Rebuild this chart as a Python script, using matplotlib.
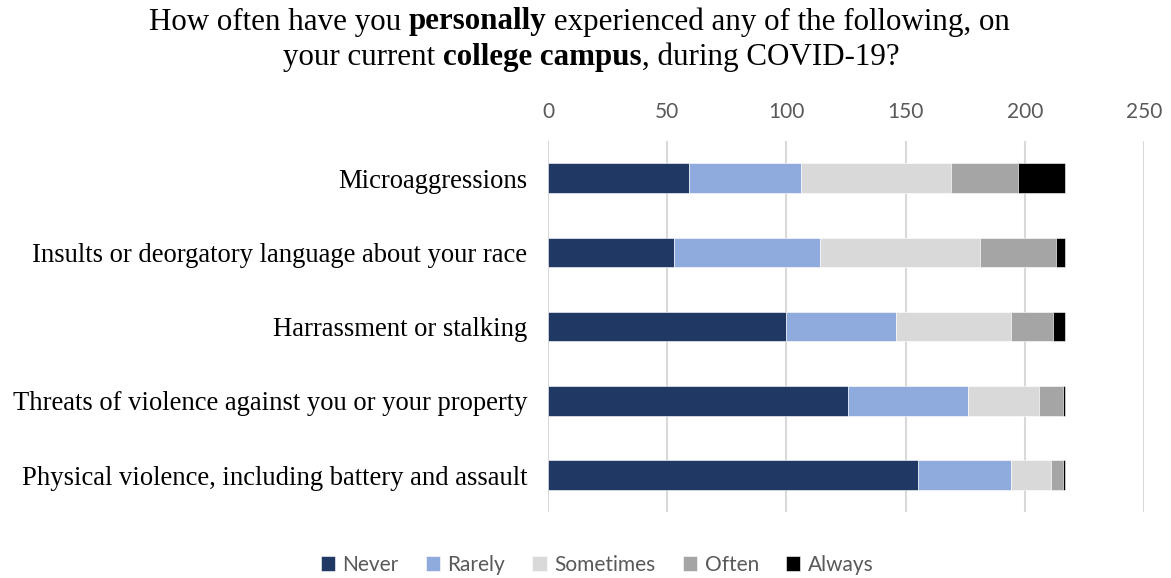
import numpy as np
import matplotlib
matplotlib.use("Agg")
import matplotlib.pyplot as plt

# survey counts per item, split by response
items = [
    "Microaggressions",
    "Insults or deorgatory language about your race",
    "Harrassment or stalking",
    "Threats of violence against you or your property",
    "Physical violence, including battery and assault",
]
responses = ["Never", "Rarely", "Sometimes", "Often", "Always"]
never = [59, 53, 100, 126, 155]
rarely = [47, 61, 46, 50, 39]
sometimes = [63, 67, 48, 30, 17]
often = [28, 32, 18, 10, 5]
always = [20, 4, 5, 1, 1]
colors = ["#203864", "#8FAADC", "#D9D9D9", "#A5A5A5", "#000000"]
xticks = [0, 50, 100, 150, 200, 250]

fig = plt.figure(figsize=(11.71, 5.78), dpi=100)
ax = fig.add_axes([0.468, 0.114, 0.509, 0.642])

y = np.arange(len(items))
left = np.zeros(len(items))
for name, vals, c in zip(responses, [never, rarely, sometimes, often, always], colors):
    vals = np.array(vals, dtype=float)
    ax.barh(y, vals, left=left, height=0.4, color=c, label=name,
            edgecolor="white", linewidth=0.4, zorder=3)
    left += vals

ax.set_xlim(0, 250)
ax.set_ylim(len(items) - 0.5, -0.5)
ax.set_xticks(xticks)
ax.xaxis.tick_top()
ax.tick_params(axis="x", length=0, labelsize=15, labelcolor="#595959", pad=14)
ax.set_xticklabels([str(t) for t in xticks], family="Lato")
ax.set_yticks(y)
ax.set_yticklabels(items, family="Liberation Serif", fontsize=19.2)
ax.tick_params(axis="y", length=0, pad=15)
ax.grid(axis="x", color="#D9D9D9", linewidth=1.5, zorder=0)
for s in ax.spines.values():
    s.set_visible(False)

# title with bold words, laid out piece by piece
def rich_line(parts, ycoord, size, shift):
    fig.canvas.draw()
    r = fig.canvas.get_renderer()
    texts = []
    total = 0
    for s, w in parts:
        t = fig.text(0, ycoord, s, fontsize=size, family="Liberation Serif",
                     fontweight=w, va="center", ha="left")
        bb = t.get_window_extent(renderer=r)
        texts.append((t, bb.width))
        total += bb.width
    x = (fig.bbox.width - total) / 2 + shift
    for t, w in texts:
        t.set_x(x / fig.bbox.width)
        x += w

rich_line([("How often have you ", "normal"), ("personally", "bold"),
           (" experienced any of the following, on", "normal")], 1 - 22 / 578, 22.3, -6)
rich_line([("your current ", "normal"), ("college campus", "bold"),
           (", during COVID-19?", "normal")], 1 - 57 / 578, 22.3, 6)

leg = fig.legend(loc="center", bbox_to_anchor=(597 / 1171, 1 - 565 / 578), ncol=5,
                 frameon=False, handlelength=0.7, handleheight=0.7,
                 handletextpad=0.35, columnspacing=1.3,
                 prop={"family": "Lato", "size": 15})
for t in leg.get_texts():
    t.set_color("#595959")

fig.savefig("out.png", dpi=100)
